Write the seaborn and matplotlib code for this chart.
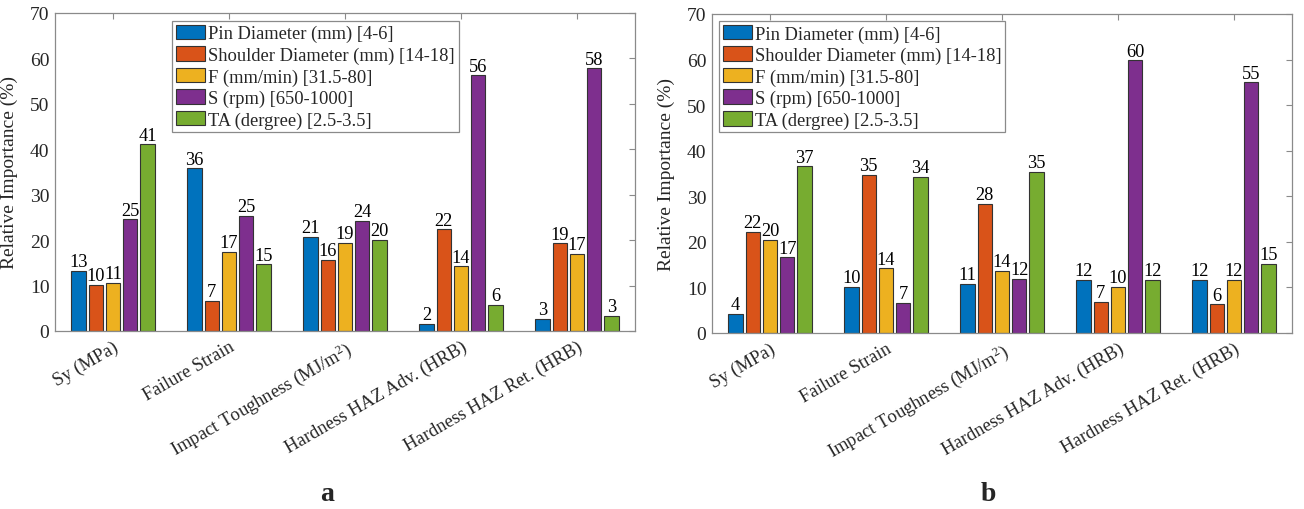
import numpy as np
import pandas as pd
import seaborn as sns
import matplotlib
matplotlib.use("Agg")
import matplotlib.pyplot as plt

# Responses (x categories) and process parameters (hue)
responses = ["Sy (MPa)", "Failure Strain", r"Impact Toughness (MJ/m$^2$)",
             "Hardness HAZ Adv. (HRB)", "Hardness HAZ Ret. (HRB)"]
parameters = ["Pin Diameter (mm) [4-6]", "Shoulder Diameter (mm) [14-18]",
              "F (mm/min) [31.5-80]", "S (rpm) [650-1000]", "TA (dergree) [2.5-3.5]"]

# Relative importance (%) -- panel a
pin_a      = [13.3, 35.8, 20.7, 1.6, 2.6]
shoulder_a = [10.2, 6.6, 15.6, 22.4, 19.3]
feed_a     = [10.6, 17.4, 19.4, 14.2, 17.0]
speed_a    = [24.6, 25.3, 24.2, 56.3, 57.8]
tilt_a     = [41.1, 14.7, 20.0, 5.7, 3.3]

# Relative importance (%) -- panel b
pin_b      = [4.2, 10.2, 10.8, 11.6, 11.6]
shoulder_b = [22.2, 34.7, 28.3, 6.8, 6.3]
feed_b     = [20.4, 14.2, 13.6, 10.2, 11.6]
speed_b    = [16.6, 6.6, 11.9, 59.8, 55.0]
tilt_b     = [36.6, 34.3, 35.3, 11.6, 15.2]

yticks = [0, 10, 20, 30, 40, 50, 60, 70]
panel_labels = ["a", "b"]

colors = ["#0072BD", "#D95319", "#EDB120", "#7E2F8E", "#77AC30"]

sns.set_style("white")
plt.rcParams["font.family"] = ["Liberation Serif", "DejaVu Serif"]
plt.rcParams["mathtext.fontset"] = "custom"
plt.rcParams["mathtext.rm"] = "Liberation Serif"
plt.rcParams["mathtext.it"] = "Liberation Serif:italic"
plt.rcParams["mathtext.bf"] = "Liberation Serif:bold"


def long_frame(series):
    rows = []
    for p, vals in zip(parameters, series):
        for r, v in zip(responses, vals):
            rows.append({"Response": r, "Parameter": p, "Value": v})
    return pd.DataFrame(rows)


frames = [
    long_frame([pin_a, shoulder_a, feed_a, speed_a, tilt_a]),
    long_frame([pin_b, shoulder_b, feed_b, speed_b, tilt_b]),
]

fig = plt.figure(figsize=(13.04, 5.10), dpi=100)
W, H = 1304, 510
boxes = [(55, 14, 635, 332), (712, 15, 1292, 334)]
legend_anchor = [(0.202, 0.975), (0.012, 0.978)]
label_x = [327, 988]

frame_color = "#8a8a8a"
text_color = "#262626"

for i, (df, (x0, y0, x1, y1)) in enumerate(zip(frames, boxes)):
    ax = fig.add_axes([x0 / W, 1 - y1 / H, (x1 - x0) / W, (y1 - y0) / H])
    sns.barplot(data=df, x="Response", y="Value", hue="Parameter",
                order=responses, hue_order=parameters, palette=colors,
                width=0.746, gap=0.17, saturation=1, errorbar=None,
                edgecolor="#333333", linewidth=0.8, ax=ax)
    for cont in ax.containers:
        ax.bar_label(cont, fmt="%.0f", padding=0.5, fontsize=13.2, color="black")

    ax.set_xlim(-0.5, len(responses) - 0.5)
    ax.set_ylim(0, 70)
    ax.set_yticks(yticks)
    ax.set_xlabel("")
    ax.set_ylabel("Relative Importance (%)", fontsize=14, color=text_color)
    ax.yaxis.set_label_coords(-0.064, 0.5)
    ax.set_xticks(range(len(responses)))
    ax.set_xticklabels(responses, rotation=30, ha="right", va="top",
                       rotation_mode="anchor", fontsize=13.4, color=text_color)
    ax.tick_params(axis="both", direction="in", length=4, width=0.8,
                   color=frame_color, top=True, right=True,
                   labelcolor=text_color)
    ax.tick_params(axis="y", pad=4, labelsize=14)
    ax.tick_params(axis="x", pad=5)
    for s in ax.spines.values():
        s.set_visible(True)
        s.set_color(frame_color)
        s.set_linewidth(0.9)

    handles, labels = ax.get_legend_handles_labels()
    ax.legend(handles, labels, loc="upper left", bbox_to_anchor=legend_anchor[i],
              frameon=True, fancybox=False, edgecolor=frame_color, framealpha=1,
              fontsize=13.3, handlelength=1.6, handleheight=0.85,
              handletextpad=0.15, labelspacing=0.2, borderpad=0.2,
              borderaxespad=0)
    ax.get_legend().get_frame().set_linewidth(0.9)

    fig.text(label_x[i] / W, 1 - 495 / H, panel_labels[i], fontsize=20,
             fontweight="bold", ha="center", va="center")

fig.savefig("out.png", dpi=100, facecolor="white")
